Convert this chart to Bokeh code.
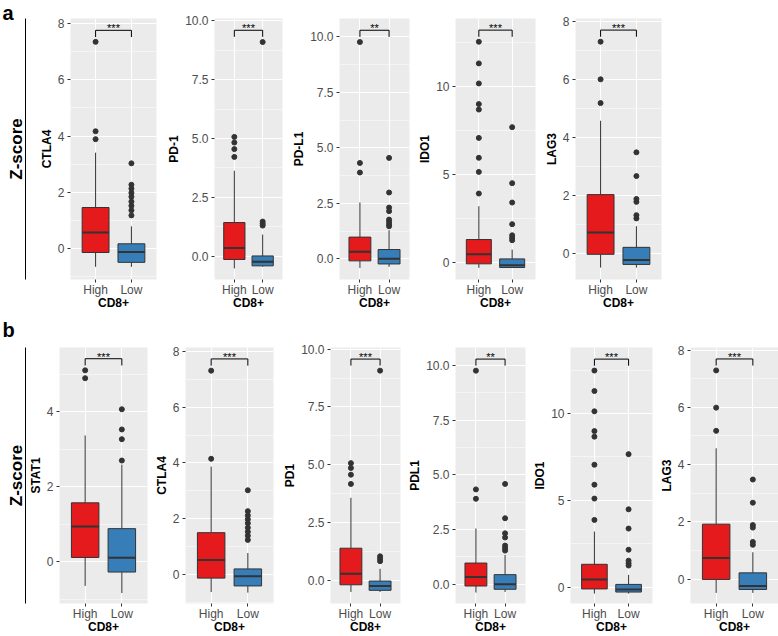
from bokeh.plotting import figure
from bokeh.models import FactorRange, Range1d, FixedTicker, ColumnDataSource, LinearAxis
from bokeh.layouts import row, column
from bokeh.transform import dodge
from bokeh.core.properties import value
from bokeh.embed import file_html
from bokeh.resources import INLINE

FONT = "Liberation Sans"
GROUPS = ["High", "Low"]
GROUP_COLORS = ["#E41A1C", "#377EB8"]
X_TITLE = "CD8+"
Y_MAIN = "Z-score"
PANEL_LETTERS = ["a", "b"]

# box stats: [lower whisker, Q1, median, Q3, upper whisker]
# ---------------- panel a ----------------
A_GENES = ["CTLA4", "PD-1", "PD-L1", "IDO1", "LAG3"]
A_SIG = ["***", "***", "**", "***", "***"]

A_CTLA4_HIGH = [-0.65, -0.14, 0.57, 1.46, 3.41]
A_CTLA4_HIGH_OUT = [7.35, 4.17, 3.89]
A_CTLA4_LOW = [-0.65, -0.49, -0.12, 0.17, 0.79]
A_CTLA4_LOW_OUT = [3.03, 2.27, 2.13, 1.98, 1.84, 1.67, 1.52, 1.36, 1.18]

A_PD1_HIGH = [-0.52, -0.14, 0.35, 1.43, 3.63]
A_PD1_HIGH_OUT = [5.07, 4.83, 4.55, 4.22]
A_PD1_LOW = [-0.45, -0.41, -0.24, 0.01, 0.92]
A_PD1_LOW_OUT = [9.10, 1.47, 1.38, 1.30]

A_PDL1_HIGH = [-0.41, -0.09, 0.32, 0.98, 2.54]
A_PDL1_HIGH_OUT = [9.77, 4.32, 3.89]
A_PDL1_LOW = [-0.36, -0.23, 0.00, 0.42, 1.29]
A_PDL1_LOW_OUT = [4.55, 2.99, 2.31, 2.15, 1.77, 1.67, 1.56, 1.47]

A_IDO1_HIGH = [-0.32, -0.09, 0.45, 1.29, 3.18]
A_IDO1_HIGH_OUT = [12.52, 11.29, 10.15, 8.98, 8.67, 7.06, 5.93, 5.13, 3.90]
A_IDO1_LOW = [-0.32, -0.30, -0.17, 0.19, 0.72]
A_IDO1_LOW_OUT = [7.67, 4.49, 3.39, 2.16, 1.53, 1.38, 1.25]

A_LAG3_HIGH = [-0.49, -0.03, 0.72, 2.03, 4.58]
A_LAG3_HIGH_OUT = [7.31, 6.01, 5.19]
A_LAG3_LOW = [-0.49, -0.38, -0.23, 0.21, 0.94]
A_LAG3_LOW_OUT = [3.49, 2.67, 1.88, 1.78, 1.32, 1.21]

A_YLIM = [(-1.10, 8.18), (-0.99, 10.10), (-0.93, 10.83), (-0.98, 13.84), (-0.90, 8.11)]
A_BRACKET_TOP = [7.76, 9.60, 10.30, 13.18, 7.71]
A_BRACKET_END = [7.52, 9.32, 10.00, 12.80, 7.48]

# ---------------- panel b ----------------
B_GENES = ["STAT1", "CTLA4", "PD1", "PDL1", "IDO1", "LAG3"]
B_SIG = ["***", "***", "***", "**", "***", "***"]

B_STAT1_HIGH = [-0.65, 0.11, 0.94, 1.57, 3.37]
B_STAT1_HIGH_OUT = [5.11, 4.90]
B_STAT1_LOW = [-0.84, -0.28, 0.10, 0.88, 2.59]
B_STAT1_LOW_OUT = [4.07, 3.53, 3.27, 2.70]

B_CTLA4_HIGH = [-0.63, -0.13, 0.52, 1.50, 3.87]
B_CTLA4_HIGH_OUT = [7.31, 4.15]
B_CTLA4_LOW = [-0.65, -0.41, -0.06, 0.20, 0.77]
B_CTLA4_LOW_OUT = [3.02, 2.27, 2.12, 1.98, 1.84, 1.68, 1.53, 1.39, 1.24]

B_PD1_HIGH = [-0.50, -0.19, 0.29, 1.39, 3.57]
B_PD1_HIGH_OUT = [5.07, 4.86, 4.57, 4.17]
B_PD1_LOW = [-0.50, -0.43, -0.24, -0.03, 0.50]
B_PD1_LOW_OUT = [9.07, 1.04, 0.93, 0.83]

B_PDL1_HIGH = [-0.38, -0.08, 0.33, 0.97, 2.55]
B_PDL1_HIGH_OUT = [9.77, 4.34, 3.91]
B_PDL1_LOW = [-0.35, -0.23, 0.00, 0.44, 1.34]
B_PDL1_LOW_OUT = [4.59, 3.02, 2.33, 2.14, 1.77, 1.65, 1.54]

B_IDO1_HIGH = [-0.38, -0.11, 0.44, 1.31, 3.20]
B_IDO1_HIGH_OUT = [12.48, 11.30, 10.13, 8.99, 8.67, 7.05, 5.90, 5.10, 3.87]
B_IDO1_LOW = [-0.38, -0.29, -0.15, 0.15, 0.70]
B_IDO1_LOW_OUT = [7.66, 4.48, 3.37, 2.15, 1.52, 1.37, 1.24]

B_LAG3_HIGH = [-0.48, -0.01, 0.74, 1.92, 4.57]
B_LAG3_HIGH_OUT = [7.29, 5.99, 5.18]
B_LAG3_LOW = [-0.48, -0.36, -0.24, 0.22, 0.94]
B_LAG3_LOW_OUT = [3.48, 2.67, 1.89, 1.80, 1.30, 1.20]

B_YLIM = [(-1.12, 5.72), (-1.04, 8.14), (-1.00, 10.07), (-0.88, 10.83), (-0.95, 13.81), (-0.85, 8.09)]
B_BRACKET_TOP = [5.42, 7.73, 9.57, 10.30, 13.14, 7.69]
B_BRACKET_END = [5.24, 7.49, 9.29, 10.00, 12.76, 7.46]

# ---------------- tick sets ----------------
TICKS_2 = [0, 2, 4, 6, 8]
LABELS_2 = ["0", "2", "4", "6", "8"]
MINOR_2 = [-1, 1, 3, 5, 7]
TICKS_25 = [0, 2.5, 5, 7.5, 10]
LABELS_25 = ["0.0", "2.5", "5.0", "7.5", "10.0"]
MINOR_25 = [-1.25, 1.25, 3.75, 6.25, 8.75]
TICKS_5 = [0, 5, 10]
LABELS_5 = ["0", "5", "10"]
MINOR_5 = [-2.5, 2.5, 7.5, 12.5]
TICKS_STAT = [0, 2, 4]
LABELS_STAT = ["0", "2", "4"]
MINOR_STAT = [-1, 1, 3, 5]

A_TICKS = [(TICKS_2, LABELS_2, MINOR_2), (TICKS_25, LABELS_25, MINOR_25),
           (TICKS_25, LABELS_25, MINOR_25), (TICKS_5, LABELS_5, MINOR_5),
           (TICKS_2, LABELS_2, MINOR_2)]
B_TICKS = [(TICKS_STAT, LABELS_STAT, MINOR_STAT), (TICKS_2, LABELS_2, MINOR_2),
           (TICKS_25, LABELS_25, MINOR_25), (TICKS_25, LABELS_25, MINOR_25),
           (TICKS_5, LABELS_5, MINOR_5), (TICKS_2, LABELS_2, MINOR_2)]

A_DATA = [(A_CTLA4_HIGH, A_CTLA4_HIGH_OUT, A_CTLA4_LOW, A_CTLA4_LOW_OUT),
          (A_PD1_HIGH, A_PD1_HIGH_OUT, A_PD1_LOW, A_PD1_LOW_OUT),
          (A_PDL1_HIGH, A_PDL1_HIGH_OUT, A_PDL1_LOW, A_PDL1_LOW_OUT),
          (A_IDO1_HIGH, A_IDO1_HIGH_OUT, A_IDO1_LOW, A_IDO1_LOW_OUT),
          (A_LAG3_HIGH, A_LAG3_HIGH_OUT, A_LAG3_LOW, A_LAG3_LOW_OUT)]
B_DATA = [(B_STAT1_HIGH, B_STAT1_HIGH_OUT, B_STAT1_LOW, B_STAT1_LOW_OUT),
          (B_CTLA4_HIGH, B_CTLA4_HIGH_OUT, B_CTLA4_LOW, B_CTLA4_LOW_OUT),
          (B_PD1_HIGH, B_PD1_HIGH_OUT, B_PD1_LOW, B_PD1_LOW_OUT),
          (B_PDL1_HIGH, B_PDL1_HIGH_OUT, B_PDL1_LOW, B_PDL1_LOW_OUT),
          (B_IDO1_HIGH, B_IDO1_HIGH_OUT, B_IDO1_LOW, B_IDO1_LOW_OUT),
          (B_LAG3_HIGH, B_LAG3_HIGH_OUT, B_LAG3_LOW, B_LAG3_LOW_OUT)]

# ---------------- layout (pixels) ----------------
A_H, A_TOP, A_BOT = 312, 18, 33
B_H, B_TOP, B_BOT = 324, 35, 32
# (left border, frame width, right border) per panel
A_BORDERS = [(70, 86, 2), (56, 68, 2), (55, 70, 2), (44, 80, 2), (38, 86, 117)]
B_BORDERS = [(59, 88, 2), (36, 88, 2), (55, 70, 2), (53, 70, 2), (43, 82, 2), (36, 88, 0)]
A_SPACER, B_SPACER = 11, 0
A_LETTER = dict(offset=-68, standoff=-14)
B_LETTER = dict(offset=-57, standoff=10)

LINE_COL = "#333333"


def style_axis(ax):
    ax.axis_line_color = None
    ax.major_tick_in = 0
    ax.major_tick_out = 3
    ax.major_tick_line_color = LINE_COL
    ax.minor_tick_in = 0
    ax.minor_tick_out = 0
    ax.major_label_text_font = FONT
    ax.major_label_text_font_size = "12px"
    ax.major_label_text_color = "#4D4D4D"
    ax.axis_label_text_font = FONT
    ax.axis_label_text_font_size = "12px"
    ax.axis_label_text_font_style = "bold"
    ax.axis_label_text_color = "black"


def make_panel(gene, hi, hi_out, lo, lo_out, ylim, ticks, bracket_top, bracket_end,
               sig, borders, height, top, bot):
    bl, fw, br = borders
    xr = FactorRange(factors=GROUPS, range_padding=0.2, range_padding_units="absolute")
    p = figure(width=bl + fw + br, height=height, x_range=xr, y_range=Range1d(*ylim),
               toolbar_location=None, output_backend="svg",
               background_fill_color="#EBEBEB", border_fill_color="white",
               outline_line_color=None)
    p.min_border_left = bl
    p.min_border_right = br
    p.min_border_top = top
    p.min_border_bottom = bot

    tk, tl, mn = ticks
    p.yaxis.ticker = FixedTicker(ticks=tk, minor_ticks=mn)
    p.yaxis.major_label_overrides = {t: l for t, l in zip(tk, tl)}
    style_axis(p.xaxis[0])
    style_axis(p.yaxis[0])
    p.xaxis.axis_label = X_TITLE
    p.xaxis.major_label_standoff = 0
    p.xaxis.axis_label_standoff = -4
    p.yaxis.axis_label = gene
    p.yaxis.major_label_standoff = 3
    p.yaxis.axis_label_standoff = 1

    p.xgrid.grid_line_color = "white"
    p.xgrid.grid_line_width = 1.1
    p.ygrid.grid_line_color = "white"
    p.ygrid.grid_line_width = 1.1
    p.ygrid.minor_grid_line_color = "white"
    p.ygrid.minor_grid_line_width = 0.5

    stats = [hi, lo]
    src = ColumnDataSource(dict(
        g=GROUPS,
        lw=[s[0] for s in stats], q1=[s[1] for s in stats], med=[s[2] for s in stats],
        q3=[s[3] for s in stats], uw=[s[4] for s in stats], color=GROUP_COLORS))

    p.segment(x0="g", y0="lw", x1="g", y1="q1", source=src, line_color=LINE_COL, line_width=1)
    p.segment(x0="g", y0="q3", x1="g", y1="uw", source=src, line_color=LINE_COL, line_width=1)
    p.vbar(x="g", width=0.75, bottom="q1", top="q3", fill_color="color", line_color=LINE_COL,
           line_width=1, source=src)
    p.segment(x0=dodge("g", -0.375, range=xr), y0="med", x1=dodge("g", 0.375, range=xr),
              y1="med", source=src, line_color=LINE_COL, line_width=2)

    out_src = ColumnDataSource(dict(
        g=[GROUPS[0]] * len(hi_out) + [GROUPS[1]] * len(lo_out),
        y=list(hi_out) + list(lo_out)))
    p.scatter(x="g", y="y", source=out_src, size=5, color=LINE_COL)

    br_src = ColumnDataSource(dict(
        x0=[GROUPS[0], GROUPS[0], GROUPS[1]], x1=[GROUPS[1], GROUPS[0], GROUPS[1]],
        y0=[bracket_top] * 3, y1=[bracket_top, bracket_end, bracket_end]))
    p.segment(x0="x0", y0="y0", x1="x1", y1="y1", source=br_src, line_color="black",
              line_width=1)
    sig_src = ColumnDataSource(dict(g=[GROUPS[0]], y=[bracket_top], t=[sig]))
    p.text(x=dodge("g", 0.5, range=xr), y="y", text="t", source=sig_src,
           text_align="center", text_baseline="alphabetic", y_offset=-2,
           text_font=value(FONT), text_font_size="11px", text_color="black")
    return p


def add_row_label(p, letter, spacer, letter_opts):
    # optional blank spacer axis (white tick only), then the Z-score axis whose
    # rule is the vertical line
    if spacer > 0:
        sp = LinearAxis(ticker=FixedTicker(ticks=[0]), axis_line_color=None,
                        major_tick_out=spacer, major_tick_in=0, minor_tick_out=0,
                        minor_tick_in=0, major_tick_line_color="white",
                        major_label_standoff=0, major_label_text_color=None)
        p.add_layout(sp, "left")
    za = LinearAxis(ticker=FixedTicker(ticks=[]), axis_line_color="black", axis_line_width=1,
                    major_tick_out=0, major_tick_in=0, minor_tick_out=0, minor_tick_in=0,
                    axis_label=Y_MAIN, axis_label_standoff=0,
                    axis_label_text_font=FONT, axis_label_text_font_size="17px",
                    axis_label_text_font_style="bold", axis_label_text_color="black")
    p.add_layout(za, "left")
    # panel letter as the figure title, pushed to the far left
    p.title.text = letter
    p.title.align = "left"
    p.title.vertical_align = "top"
    p.title.offset = letter_opts["offset"]
    p.title.standoff = letter_opts["standoff"]
    p.title.text_font = FONT
    p.title.text_font_size = "20px"
    p.title.text_font_style = "bold"
    p.title.text_color = "black"


row_a = []
for i, gene in enumerate(A_GENES):
    hi, hi_out, lo, lo_out = A_DATA[i]
    row_a.append(make_panel(gene, hi, hi_out, lo, lo_out, A_YLIM[i], A_TICKS[i],
                            A_BRACKET_TOP[i], A_BRACKET_END[i], A_SIG[i], A_BORDERS[i],
                            A_H, A_TOP, A_BOT))
add_row_label(row_a[0], PANEL_LETTERS[0], A_SPACER, A_LETTER)

row_b = []
for i, gene in enumerate(B_GENES):
    hi, hi_out, lo, lo_out = B_DATA[i]
    row_b.append(make_panel(gene, hi, hi_out, lo, lo_out, B_YLIM[i], B_TICKS[i],
                            B_BRACKET_TOP[i], B_BRACKET_END[i], B_SIG[i], B_BORDERS[i],
                            B_H, B_TOP, B_BOT))
add_row_label(row_b[0], PANEL_LETTERS[1], B_SPACER, B_LETTER)

layout = column(row(*row_a, spacing=0), row(*row_b, spacing=0), spacing=0)

with open("out.html", "w") as f:
    f.write(file_html(layout, INLINE))
